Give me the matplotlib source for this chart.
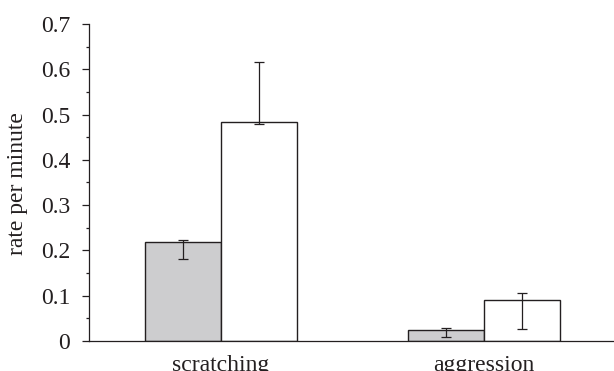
import matplotlib
matplotlib.use("Agg")
import matplotlib.pyplot as plt
import numpy as np
from matplotlib.ticker import FixedLocator

# ---- data ----
categories = ["scratching", "aggression"]
grey_means = [0.218, 0.024]
grey_low = [0.180, 0.0095]
grey_high = [0.222, 0.029]
white_means = [0.484, 0.090]
white_low = [0.479, 0.026]
white_high = [0.616, 0.106]
ytick_values = [0, 0.1, 0.2, 0.3, 0.4, 0.5, 0.6, 0.7]
ytick_labels = ["0", "0.1", "0.2", "0.3", "0.4", "0.5", "0.6", "0.7"]

plt.rcParams['font.family'] = ['Liberation Serif', 'DejaVu Serif']
ink = '#231f20'
fs = 17

fig = plt.figure(figsize=(6.14, 3.71), dpi=100)
ax = fig.add_axes([89/614, 30/371, 1 - 89/614, 317/371])

x = np.arange(len(categories))
w = 0.289
gm = np.array(grey_means); wm = np.array(white_means)
gerr = [gm - np.array(grey_low), np.array(grey_high) - gm]
werr = [wm - np.array(white_low), np.array(white_high) - wm]

ax.bar(x - w/2, gm, w, color='#cdcdcf', edgecolor=ink, linewidth=1.0, zorder=2)
ax.bar(x + w/2, wm, w, color='white', edgecolor=ink, linewidth=1.0, zorder=2)
ax.errorbar(x - w/2, gm, yerr=gerr, fmt='none', ecolor=ink, elinewidth=0.9,
            capsize=3.3, capthick=0.9, zorder=3)
ax.errorbar(x + w/2, wm, yerr=werr, fmt='none', ecolor=ink, elinewidth=0.9,
            capsize=3.3, capthick=0.9, zorder=3)

ax.set_xlim(-0.502, 1.494)
ax.set_ylim(0, 0.7)
ax.set_xticks(x)
ax.set_xticklabels(categories, fontsize=fs, color=ink)
ax.tick_params(axis='x', length=0, pad=10)
ax.set_yticks(ytick_values)
ax.set_yticklabels(ytick_labels, fontsize=fs, color=ink)
ax.yaxis.set_minor_locator(FixedLocator(np.arange(0.05, 0.7, 0.1)))
ax.tick_params(axis='y', which='major', length=5, width=0.9, color=ink, pad=8.5, direction='out')
ax.tick_params(axis='y', which='minor', length=2.5, width=0.9, color=ink, direction='out')

for s in ['top', 'right']:
    ax.spines[s].set_visible(False)
for s in ['left', 'bottom']:
    ax.spines[s].set_linewidth(0.9)
    ax.spines[s].set_color(ink)

fig.text(18/614, 1 - 184/371, "rate per minute", rotation=90, ha='center', va='center',
         fontsize=fs, color=ink)

fig.savefig("out.png", dpi=100)
